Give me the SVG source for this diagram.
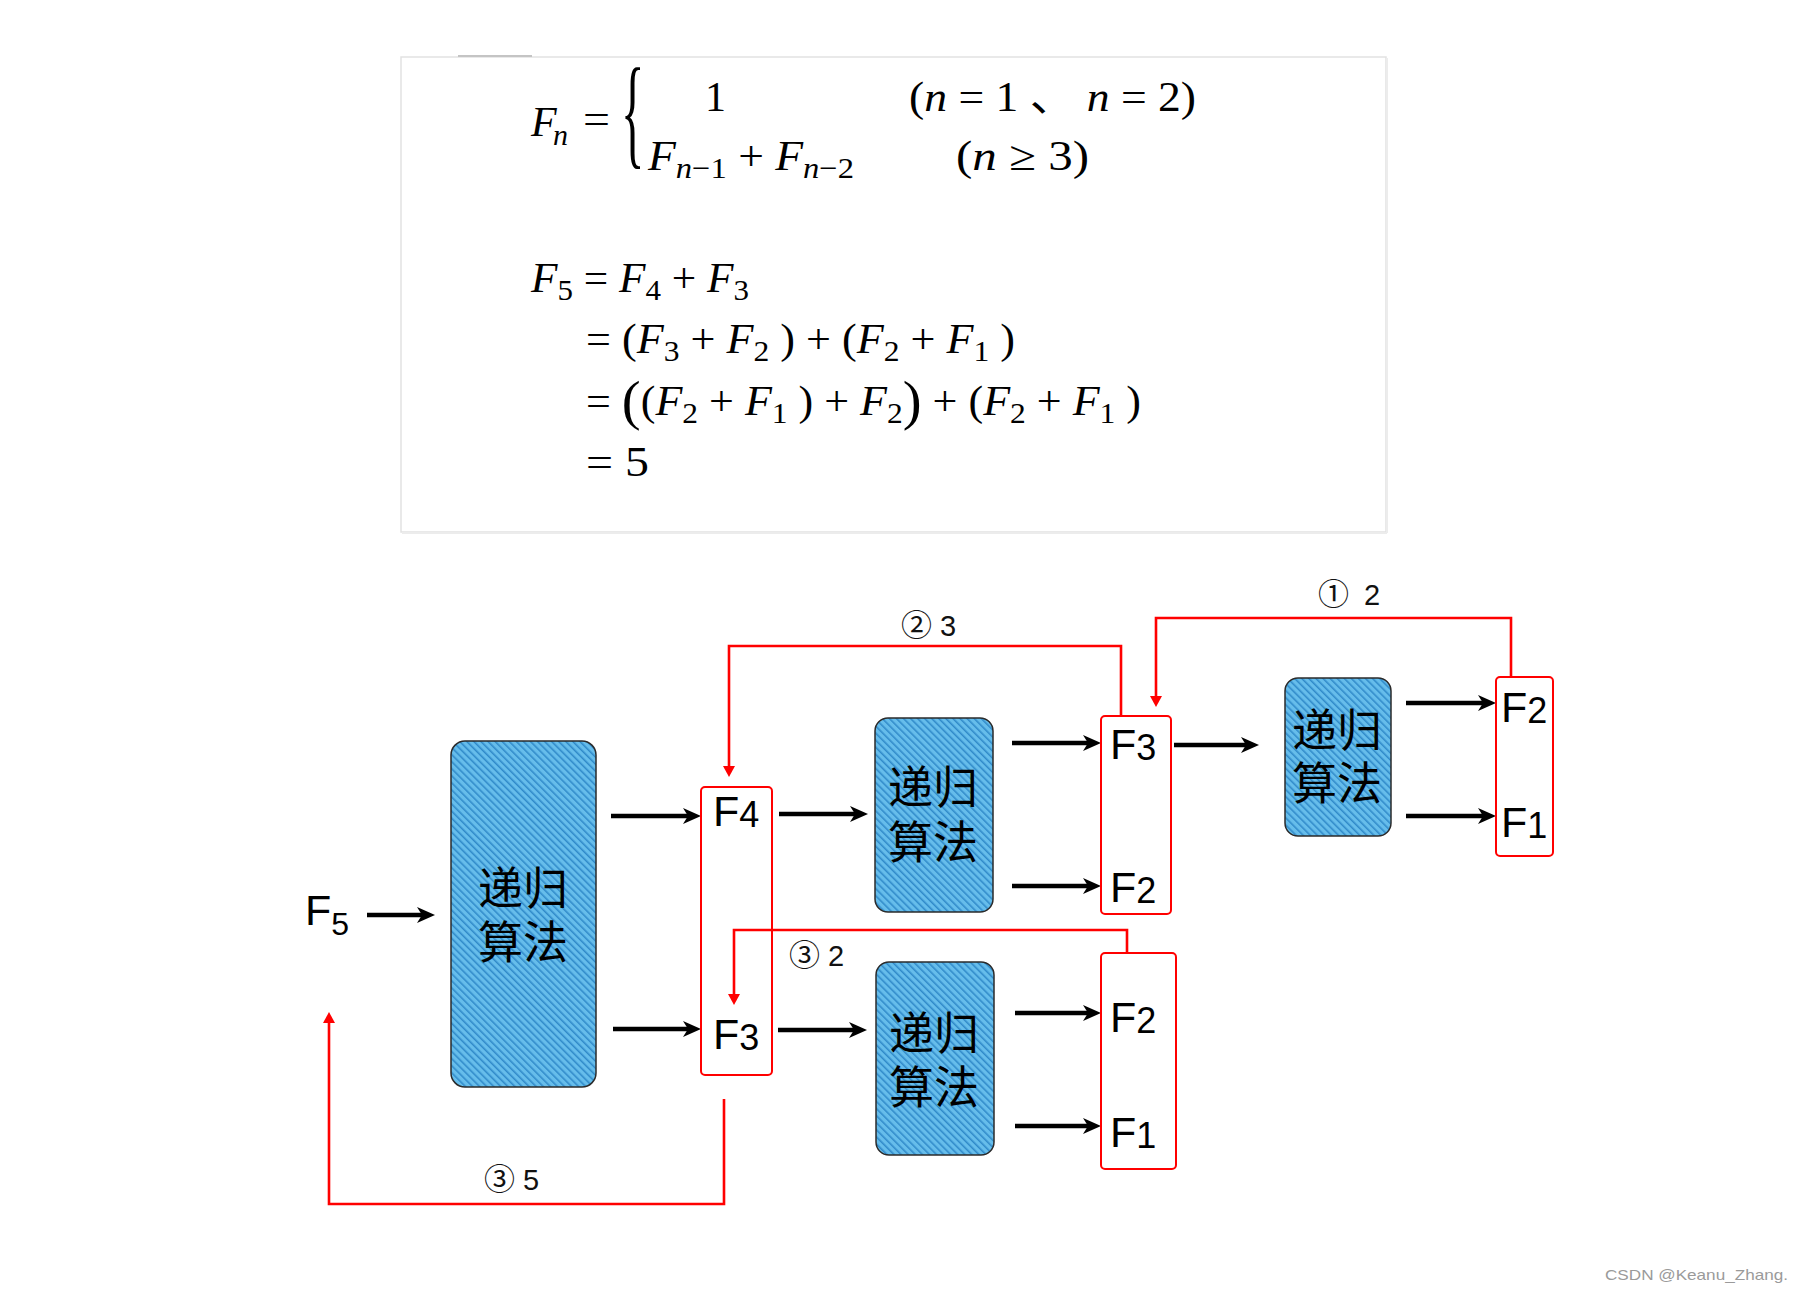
<svg xmlns="http://www.w3.org/2000/svg" width="1798" height="1295" viewBox="0 0 1798 1295">
<style>
.m{font-family:"Liberation Serif","DejaVu Serif","Noto Sans CJK SC",serif;font-size:42px;fill:#000}
.i{font-style:italic}
.s{font-size:30px}
.blk{fill:url(#hatch);stroke:#2b2b2b;stroke-width:1.5}
.cn{font-family:"Noto Sans CJK SC","Noto Sans CJK JP",sans-serif;font-size:45px;fill:#000;text-anchor:middle}
.rb{fill:none;stroke:#ff0000;stroke-width:2}
.fl{font-family:"Liberation Sans",Arial,sans-serif;font-size:43px;fill:#000}
.fd{font-size:36px}
.ar{stroke:#000;stroke-width:4.5;fill:none;marker-end:url(#ah)}
.rl{stroke:#ff0000;stroke-width:2.6;fill:none;marker-end:url(#rh)}
.lb{font-family:"Liberation Sans","Noto Sans CJK SC",sans-serif;font-size:29px;fill:#111}
.cc{font-family:"Noto Sans CJK SC",sans-serif;font-size:31px}
.wm{font-family:"Liberation Sans",Arial,sans-serif;font-size:15px;fill:#9a9a9a}
</style>
<defs>
<pattern id="hatch" patternUnits="userSpaceOnUse" width="5" height="5" patternTransform="rotate(-45)">
<rect width="5" height="5" fill="#66bdeb"/>
<line x1="0.8" y1="0" x2="0.8" y2="5" stroke="#2d88c8" stroke-width="1.5"/>
</pattern>
<marker id="ah" markerUnits="userSpaceOnUse" markerWidth="20" markerHeight="20" refX="9" refY="8" orient="auto">
<path d="M0,0 L18,8 L0,16 L5,8 z" fill="#000"/>
</marker>
<marker id="rh" markerUnits="userSpaceOnUse" markerWidth="14" markerHeight="14" refX="4" refY="6" orient="auto">
<path d="M0,0 L11,6 L0,12 z" fill="#ff0000"/>
</marker>
</defs>
<rect width="1798" height="1295" fill="#ffffff"/>

<g id="formula">
<rect x="401" y="57" width="985" height="475" fill="#ffffff" stroke="#e2e2e2" stroke-width="1.5"/>
<line x1="402" y1="533" x2="1387" y2="533" stroke="#ececec" stroke-width="2"/>
<line x1="1387" y1="58" x2="1387" y2="533" stroke="#ececec" stroke-width="2"/>
<line x1="458" y1="56" x2="532" y2="56" stroke="#c4c4c4" stroke-width="2"/>
<text class="m" x="531" y="136"><tspan class="i">F</tspan><tspan class="i s" x="553" dy="9">n</tspan></text>
<text class="m" x="583" y="133" textLength="27" lengthAdjust="spacingAndGlyphs">=</text>
<text class="m" x="0" y="0" transform="translate(621,153) scale(0.4,1)" style="font-size:122px">{</text>
<text class="m" x="705" y="111">1</text>
<text class="m" x="909" y="111" textLength="287" lengthAdjust="spacingAndGlyphs">(<tspan class="i">n</tspan> = 1 、 <tspan class="i">n</tspan> = 2)</text>
<text class="m" x="648" y="170" textLength="206" lengthAdjust="spacingAndGlyphs"><tspan class="i">F</tspan><tspan class="i s" dy="8">n</tspan><tspan class="s">−1</tspan><tspan dy="-8"> + </tspan><tspan class="i">F</tspan><tspan class="i s" dy="8">n</tspan><tspan class="s">−2</tspan></text>
<text class="m" x="956" y="170" textLength="133" lengthAdjust="spacingAndGlyphs">(<tspan class="i">n</tspan> ≥ 3)</text>
<text class="m" x="531" y="292" textLength="218" lengthAdjust="spacingAndGlyphs"><tspan class="i">F</tspan><tspan class="s" dy="8">5</tspan><tspan dy="-8"> = </tspan><tspan class="i">F</tspan><tspan class="s" dy="8">4</tspan><tspan dy="-8"> + </tspan><tspan class="i">F</tspan><tspan class="s" dy="8">3</tspan></text>
<text class="m" x="586" y="353" textLength="429" lengthAdjust="spacingAndGlyphs">= (<tspan class="i">F</tspan><tspan class="s" dy="8">3</tspan><tspan dy="-8"> + </tspan><tspan class="i">F</tspan><tspan class="s" dy="8">2</tspan><tspan dy="-8"> ) + (</tspan><tspan class="i">F</tspan><tspan class="s" dy="8">2</tspan><tspan dy="-8"> + </tspan><tspan class="i">F</tspan><tspan class="s" dy="8">1</tspan><tspan dy="-8"> )</tspan></text>
<text class="m" x="586" y="415" textLength="555" lengthAdjust="spacingAndGlyphs">= <tspan style="font-size:54px" dy="4">(</tspan><tspan dy="-4">(</tspan><tspan class="i">F</tspan><tspan class="s" dy="8">2</tspan><tspan dy="-8"> + </tspan><tspan class="i">F</tspan><tspan class="s" dy="8">1</tspan><tspan dy="-8"> ) + </tspan><tspan class="i">F</tspan><tspan class="s" dy="8">2</tspan><tspan style="font-size:54px" dy="-4">)</tspan><tspan dy="-4"> + (</tspan><tspan class="i">F</tspan><tspan class="s" dy="8">2</tspan><tspan dy="-8"> + </tspan><tspan class="i">F</tspan><tspan class="s" dy="8">1</tspan><tspan dy="-8"> )</tspan></text>
<text class="m" x="586" y="476" textLength="63" lengthAdjust="spacingAndGlyphs">= 5</text>
</g>

<g id="connectors">
<line class="ar" x1="367" y1="915" x2="426" y2="915"/>
<line class="ar" x1="611" y1="816" x2="692" y2="816"/>
<line class="ar" x1="613" y1="1029" x2="692" y2="1029"/>
<line class="ar" x1="779" y1="814" x2="859" y2="814"/>
<line class="ar" x1="778" y1="1030" x2="858" y2="1030"/>
<line class="ar" x1="1012" y1="743" x2="1092" y2="743"/>
<line class="ar" x1="1012" y1="886" x2="1092" y2="886"/>
<line class="ar" x1="1174" y1="745" x2="1250" y2="745"/>
<line class="ar" x1="1406" y1="703" x2="1487" y2="703"/>
<line class="ar" x1="1406" y1="816" x2="1487" y2="816"/>
<line class="ar" x1="1015" y1="1013" x2="1092" y2="1013"/>
<line class="ar" x1="1015" y1="1126" x2="1092" y2="1126"/>
<path class="rl" d="M1121,716 V646 H729 V770"/>
<path class="rl" d="M1511,677 V618 H1156 V700"/>
<path class="rl" d="M1127,953 V930 H734 V998"/>
<path class="rl" d="M724,1099 V1204 H329 V1019"/>
<text class="lb" x="901" y="636"><tspan class="cc">②</tspan><tspan x="940">3</tspan></text>
<text class="lb" x="1318" y="605"><tspan class="cc">①</tspan><tspan x="1364">2</tspan></text>
<text class="lb" x="789" y="966"><tspan class="cc">③</tspan><tspan x="828">2</tspan></text>
<text class="lb" x="484" y="1190"><tspan class="cc">③</tspan><tspan x="523">5</tspan></text>
</g>

<g id="f5">
<text class="fl" x="305" y="925">F<tspan class="fd" style="font-size:32px" dy="10">5</tspan></text>
</g>

<g id="rec1">
<rect class="blk" x="451" y="741" width="145" height="346" rx="14"/>
<text class="cn" x="523" y="905">递归<tspan x="523" dy="54">算法</tspan></text>
</g>

<g id="rec2">
<rect class="blk" x="875" y="718" width="118" height="194" rx="13"/>
<text class="cn" x="933" y="804">递归<tspan x="933" dy="55">算法</tspan></text>
</g>

<g id="rec3">
<rect class="blk" x="876" y="962" width="118" height="193" rx="13"/>
<text class="cn" x="934" y="1050">递归<tspan x="934" dy="54">算法</tspan></text>
</g>

<g id="rec4">
<rect class="blk" x="1285" y="678" width="106" height="158" rx="13"/>
<text class="cn" x="1337" y="747">递归<tspan x="1337" dy="53">算法</tspan></text>
</g>

<g id="out1">
<rect class="rb" x="701" y="787" width="71" height="288" rx="4"/>
<text class="fl" x="713" y="826">F<tspan class="fd" dy="1">4</tspan></text>
<text class="fl" x="713" y="1049">F<tspan class="fd" dy="1">3</tspan></text>
</g>

<g id="out2">
<rect class="rb" x="1101" y="716" width="70" height="198" rx="4"/>
<text class="fl" x="1110" y="759">F<tspan class="fd" dy="1">3</tspan></text>
<text class="fl" x="1110" y="902">F<tspan class="fd" dy="1">2</tspan></text>
</g>

<g id="out3">
<rect class="rb" x="1496" y="677" width="57" height="179" rx="4"/>
<text class="fl" x="1501" y="722">F<tspan class="fd" dy="1">2</tspan></text>
<text class="fl" x="1501" y="837">F<tspan class="fd" dy="1">1</tspan></text>
</g>

<g id="out4">
<rect class="rb" x="1101" y="953" width="75" height="216" rx="4"/>
<text class="fl" x="1110" y="1032">F<tspan class="fd" dy="1">2</tspan></text>
<text class="fl" x="1110" y="1147">F<tspan class="fd" dy="1">1</tspan></text>
</g>

<text class="wm" x="1605" y="1280" textLength="183" lengthAdjust="spacingAndGlyphs">CSDN @Keanu_Zhang.</text>
</svg>
